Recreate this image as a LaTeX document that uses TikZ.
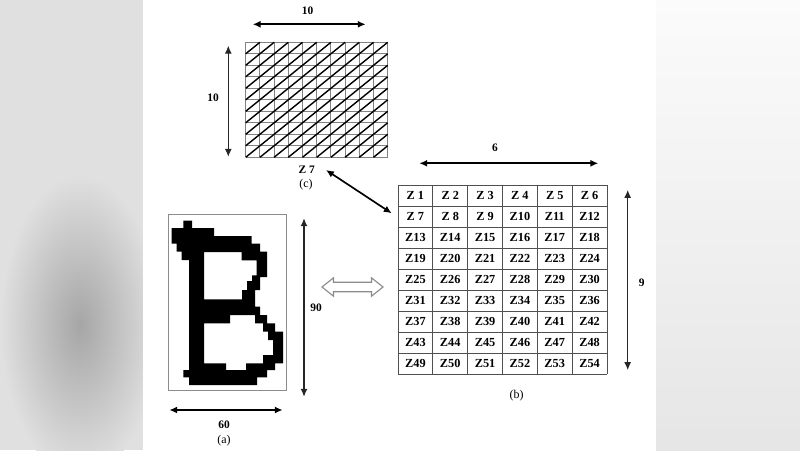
\documentclass[tikz,border=0pt]{standalone}
\usepackage{fontspec}
\setmainfont{Liberation Serif}
\usetikzlibrary{arrows.meta}

\definecolor{sidegray}{RGB}{224,224,224}
\definecolor{boxgray}{RGB}{140,140,140}
\definecolor{cellgray}{RGB}{80,80,80}
\definecolor{meshgray}{RGB}{130,130,130}

\begin{document}
\begin{tikzpicture}[x=0.02cm, y=-0.02cm,
  >={Latex[length=4.5pt,width=4pt]},
  dimlbl/.style={font=\fontsize{6.5}{7}\selectfont\bfseries, inner sep=0pt},
  caplbl/.style={font=\fontsize{6.8}{8}\selectfont, inner sep=0pt},
  celllbl/.style={font=\fontsize{7}{8}\selectfont\bfseries, inner sep=0pt},
  harrow/.style={<->, black, line width=0.95pt},
  varrow/.style={<->, black!85, line width=0.65pt},
  meshline/.style={meshgray, line width=0.55pt},
  meshdiag/.style={black, line width=0.8pt},
  cellline/.style={cellgray, line width=0.55pt}]

  \useasboundingbox (0,0) rectangle (800,450);

  % blurred sides of the screenshot
  \fill[sidegray] (0,0) rectangle (143,450);
  \begin{scope}
    \clip (0,0) rectangle (143,450);
    \shade[inner color=gray!70, outer color=sidegray] (80,325) ellipse (80 and 150);
  \end{scope}
  \shade[top color=gray!3, bottom color=gray!20] (656,0) rectangle (800,450);
  \fill[white] (143,0) rectangle (656,450);

  % (c) 10 x 10 mesh
  \foreach \i in {0,...,10}
    \draw[meshline] (245.7+14.2*\i,42.3) -- (245.7+14.2*\i,157.3);
  \foreach \j in {0,...,10}
    \draw[meshline] (245.7,42.3+11.5*\j) -- (387.7,42.3+11.5*\j);
  \foreach \i in {0,...,9}
    \foreach \j in {1,...,10}
      \draw[meshdiag] (245.7+14.2*\i,42.3+11.5*\j) -- ++(14.2,-11.5);

  \coordinate (meshTopL) at (252.7,24.3);
  \coordinate (meshTopR) at (365.7,24.3);
  \coordinate (meshLeftT) at (228.3,45.7);
  \coordinate (meshLeftB) at (228.3,156.7);
  \draw[harrow] (meshTopL) -- (meshTopR);
  \draw[varrow] (meshLeftT) -- (meshLeftB);
  \node[dimlbl] (meshW) at (307.7,11) {10};
  \node[dimlbl] (meshH) at (213,98) {10};
  \node[dimlbl] (zsevenLbl) at (306.7,169.3) {Z 7};
  \node[caplbl] (capC) at (306,184.5) {(c)};

  % (b) 6 x 9 zones
  \foreach \c in {0,...,6}
    \draw[cellline] (398+34.83*\c,185) -- (398+34.83*\c,374);
  \foreach \r in {0,...,9}
    \draw[cellline] (398,185+21*\r) -- (607,185+21*\r);
  \foreach \r in {0,...,8}
    \foreach \c in {0,...,5} {
      \pgfmathtruncatemacro{\zn}{\r*6+\c+1}
      \node[celllbl] (z\zn) at (398+34.83*\c+17.4,185+21*\r+10.8)
        {\ifnum\zn<10 Z\ \zn\else Z\zn\fi};
    }

  \coordinate (zoneTopL) at (419.3,163.3);
  \coordinate (zoneTopR) at (598.3,163.3);
  \coordinate (zoneRightT) at (627.7,190);
  \coordinate (zoneRightB) at (627.7,370);
  \draw[harrow] (zoneTopL) -- (zoneTopR);
  \draw[varrow] (zoneRightT) -- (zoneRightB);
  \node[dimlbl] (zoneW) at (495,147.3) {6};
  \node[dimlbl] (zoneH) at (641.7,282.7) {9};
  \node[caplbl] (capB) at (516.7,396) {(b)};

  % link from Z 7 of the mesh to the zones
  \coordinate (linkA) at (326,170);
  \coordinate (linkB) at (391.7,213.3);
  \draw[harrow] (linkA) -- (linkB);

  % (a) character image
  \draw[boxgray, line width=0.6pt] (168.3,214.3) rectangle (286.7,390.7);
  \fill[black, even odd rule]
    (183.3,220.5) -- (192,220.5) -- (192,228) -- (214,228) -- (214,236)
    -- (251.7,236) -- (251.7,243.5) -- (260,243.5) -- (260,251.7) -- (267,251.7)
    -- (267,277) -- (260,277) -- (260,290) -- (255,290) -- (255,306.7)
    -- (260,306.7) -- (260,315) -- (267,315) -- (267,323.3) -- (275,323.3)
    -- (275,331.7) -- (283,331.7) -- (283,363.3) -- (275,363.3) -- (275,370)
    -- (267,370) -- (267,377.3) -- (257,377.3) -- (257,385) -- (189,385)
    -- (189,377.3) -- (183.3,377.3) -- (183.3,370) -- (189,370) -- (189,260)
    -- (181.7,260) -- (181.7,251.7) -- (176.7,251.7) -- (176.7,243.5)
    -- (171.7,243.5) -- (171.7,228) -- (183.3,228) -- cycle
    (204,252) -- (241.7,252) -- (241.7,260.3) -- (256.7,260.3) -- (256.7,275.3)
    -- (252,275.3) -- (252,281) -- (247,281) -- (247,290) -- (242,290)
    -- (242,299.3) -- (204,299.3) -- cycle
    (204,323.3) -- (230,323.3) -- (230,315) -- (255,315) -- (255,323.3)
    -- (263,323.3) -- (263,331.7) -- (268,331.7) -- (268,340) -- (273,340)
    -- (273,355) -- (263,355) -- (263,363.3) -- (246,363.3) -- (246,370)
    -- (226,370) -- (226,363.3) -- (204,363.3) -- cycle;

  \coordinate (charTopR) at (304,218.3);
  \coordinate (charBotR) at (304,396.7);
  \coordinate (charBotL) at (169.3,410);
  \coordinate (charBotRR) at (282.7,410);
  \draw[varrow] (charTopR) -- (charBotR);
  \draw[harrow] (charBotL) -- (charBotRR);
  \node[dimlbl] (charH) at (316,308) {90};
  \node[dimlbl] (charW) at (224,425) {60};
  \node[caplbl] (capA) at (224,440.7) {(a)};

  % hollow two-way arrow between (a) and (b)
  \draw[boxgray, fill=white, line width=0.65pt, line join=miter]
    (322,287) -- (333.5,277.8) -- (333.5,282.3) -- (371.5,282.3) -- (371.5,277.8)
    -- (383,287) -- (371.5,296.2) -- (371.5,291.7) -- (333.5,291.7)
    -- (333.5,296.2) -- cycle;

\end{tikzpicture}
\end{document}
